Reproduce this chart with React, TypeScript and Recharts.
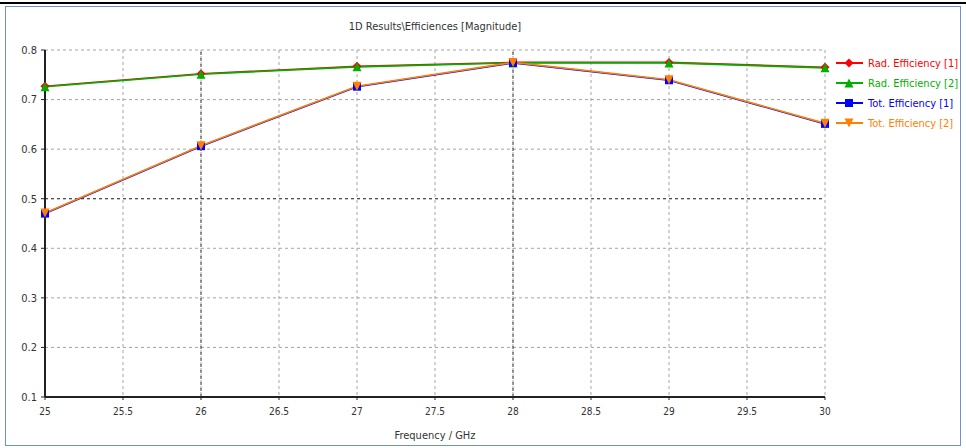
import { CartesianGrid, Line, LineChart, ReferenceLine, XAxis, YAxis } from "recharts";

const freqs = [25, 26, 27, 28, 29, 30];
const radEff1 = [0.727, 0.752, 0.767, 0.775, 0.775, 0.765];
const radEff2 = [0.726, 0.751, 0.766, 0.774, 0.774, 0.764];
const totEff1 = [0.47, 0.606, 0.726, 0.774, 0.739, 0.651];
const totEff2 = [0.471, 0.607, 0.727, 0.775, 0.74, 0.652];
const xTicks = [25, 25.5, 26, 26.5, 27, 27.5, 28, 28.5, 29, 29.5, 30];
const yTicks = [0.1, 0.2, 0.3, 0.4, 0.5, 0.6, 0.7, 0.8];

const data = freqs.map((f, i) => ({
  f,
  rad1: radEff1[i],
  rad2: radEff2[i],
  tot1: totEff1[i],
  tot2: totEff2[i],
}));

const font = "'DejaVu Sans Condensed', 'Liberation Sans Narrow', 'DejaVu Sans', sans-serif";

type Kind = "diamond" | "triangle" | "square" | "down";

function Marker({ kind, x, y, color }: { kind: Kind; x: number; y: number; color: string }) {
  const s = 4.5;
  if (kind === "diamond")
    return <polygon points={`${x},${y - s} ${x + s},${y} ${x},${y + s} ${x - s},${y}`} fill={color} />;
  if (kind === "triangle")
    return <polygon points={`${x},${y - s} ${x + s},${y + s} ${x - s},${y + s}`} fill={color} />;
  if (kind === "square") return <rect x={x - s + 0.5} y={y - s + 0.5} width={2 * s - 1} height={2 * s - 1} fill={color} />;
  return <polygon points={`${x - s},${y - s} ${x + s},${y - s} ${x},${y + s}`} fill={color} />;
}

const series = [
  { key: "rad1", name: "Rad. Efficiency [1]", color: "#ff0000", kind: "diamond" as Kind },
  { key: "rad2", name: "Rad. Efficiency [2]", color: "#00b000", kind: "triangle" as Kind },
  { key: "tot1", name: "Tot. Efficiency [1]", color: "#0000ff", kind: "square" as Kind },
  { key: "tot2", name: "Tot. Efficiency [2]", color: "#ff8000", kind: "down" as Kind },
];

function LegendBox() {
  return (
    <div style={{ position: "absolute", left: 836, top: 53, fontFamily: font, fontSize: 11 }}>
      {series.map((s) => (
        <div key={s.key} style={{ display: "flex", alignItems: "center", height: 20 }}>
          <svg width={27} height={12} style={{ marginRight: 5 }}>
            <line x1={0} y1={6} x2={27} y2={6} stroke={s.color} strokeWidth={2} />
            <Marker kind={s.kind} x={13} y={6} color={s.color} />
          </svg>
          <span style={{ color: s.color }}>{s.name}</span>
        </div>
      ))}
    </div>
  );
}

export default function App() {
  return (
    <div style={{ position: "absolute", left: 0, top: 0, width: 966, height: 448, background: "#fff" }}>
      <div style={{ position: "absolute", left: 0, top: 2, width: 966, height: 2, background: "#000" }} />
      <div
        style={{
          position: "absolute",
          left: 5,
          top: 6,
          width: 954,
          height: 438,
          border: "1px solid #6f8fd8",
        }}
      />
      <div
        style={{
          position: "absolute",
          left: 0,
          top: 20,
          width: 870,
          textAlign: "center",
          fontFamily: font,
          fontSize: 11,
          color: "#333",
        }}
      >
        {"1D Results\\Efficiences [Magnitude]"}
      </div>
      <div style={{ position: "absolute", left: 0, top: 0 }}>
        <LineChart width={966} height={448} data={data} margin={{ left: 0, right: 141, top: 50, bottom: 0 }}>
          <CartesianGrid stroke="#a5a5a5" strokeDasharray="3 3" />
          <ReferenceLine x={26} stroke="#333" strokeDasharray="3 3" />
          <ReferenceLine x={28} stroke="#333" strokeDasharray="3 3" />
          <ReferenceLine y={0.5} stroke="#333" strokeDasharray="3 3" />
          <XAxis
            dataKey="f"
            type="number"
            domain={[25, 30]}
            ticks={xTicks}
            height={51}
            axisLine={{ stroke: "#222", strokeWidth: 2 }}
            tickLine={{ stroke: "#222" }}
            tickSize={3}
            tick={{ fontFamily: font, fontSize: 10, fill: "#333", dy: 6 }}
            label={{ value: "Frequency / GHz", position: "insideBottom", dy: -4, style: { fontFamily: font, fontSize: 11, fill: "#333" } }}
          />
          <XAxis xAxisId="top" orientation="top" dataKey="f" type="number" domain={[25, 30]} height={0} tick={false} tickLine={false} axisLine={{ stroke: "#555", strokeWidth: 1.5 }} />
          <YAxis
            type="number"
            domain={[0.1, 0.8]}
            ticks={yTicks}
            width={45}
            axisLine={{ stroke: "#222", strokeWidth: 2 }}
            tickLine={{ stroke: "#222" }}
            tickSize={4}
            tick={{ fontFamily: font, fontSize: 11, fill: "#333", dx: -2 }}
          />
          <YAxis yAxisId="right" orientation="right" domain={[0.1, 0.8]} width={0} tick={false} tickLine={false} axisLine={{ stroke: "#888", strokeWidth: 1 }} />
          {series.map((s) => (
            <Line
              key={s.key}
              dataKey={s.key}
              name={s.name}
              type="linear"
              stroke={s.color}
              strokeWidth={1.6}
              isAnimationActive={false}
              dot={(p: any) => <Marker key={`${s.key}-${p.index}`} kind={s.kind} x={p.cx} y={p.cy} color={s.color} />}
              activeDot={false}
            />
          ))}
        </LineChart>
      </div>
      <LegendBox />
    </div>
  );
}
